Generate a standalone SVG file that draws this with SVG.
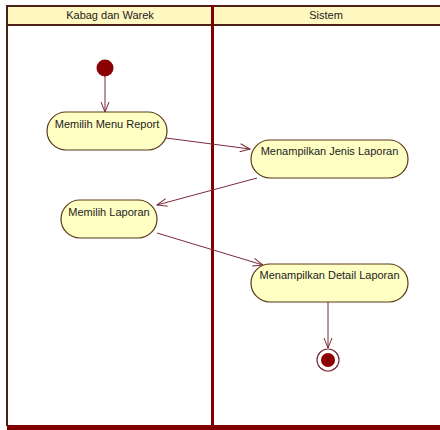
<svg xmlns="http://www.w3.org/2000/svg" width="440" height="430" viewBox="0 0 440 430">
  <style>
    .lane-title { font-family: "Liberation Sans", Arial, sans-serif; font-size: 11px; fill: #222; text-anchor: middle; }
    .act rect { fill: #ffffc4; stroke: #5a3a1a; stroke-width: 1.2; }
    .act text { font-family: "Liberation Sans", Arial, sans-serif; font-size: 11px; fill: #222; text-anchor: middle; }
    .flow { fill: none; stroke: #7a2a3a; stroke-width: 1; marker-end: url(#open); }
  </style>
  <defs>
    <marker id="open" viewBox="0 0 12 10" refX="11" refY="5" markerWidth="12" markerHeight="10" markerUnits="userSpaceOnUse" orient="auto">
      <path d="M1,1 L11,5 L1,9" fill="none" stroke="#7a2a3a" stroke-width="1"/>
    </marker>
  </defs>

  <rect width="440" height="430" fill="#ffffff"/>

  <!-- swimlane frame -->
  <g id="lanes">
    <rect x="7" y="6" width="440" height="19" fill="#fff8c0"/>
    <line x1="7" y1="6" x2="440" y2="6" stroke="#4a2018" stroke-width="2"/>
    <line x1="7" y1="25" x2="440" y2="25" stroke="#4a2018" stroke-width="2"/>
    <line x1="7" y1="5" x2="7" y2="426" stroke="#4a2018" stroke-width="2"/>
    <line x1="212.5" y1="5" x2="212.5" y2="426" stroke="#800000" stroke-width="3"/>
    <rect x="7" y="425" width="433" height="5" fill="#800000"/>
    <text class="lane-title" x="110" y="19">Kabag dan Warek</text>
    <text class="lane-title" x="326" y="19">Sistem</text>
  </g>

  <!-- control flows -->
  <g id="connectors">
    <line class="flow" x1="105" y1="76" x2="105" y2="112"/>
    <line class="flow" x1="166" y1="138" x2="250" y2="149"/>
    <line class="flow" x1="257" y1="178" x2="157" y2="205"/>
    <line class="flow" x1="157" y1="233" x2="263" y2="265"/>
    <line class="flow" x1="328" y1="302" x2="328" y2="348"/>
  </g>

  <g id="start">
    <circle cx="105" cy="68" r="8.5" fill="#8b0000"/>
  </g>

  <g id="memilih-menu-report" class="act">
    <rect x="47" y="112" width="120" height="38" rx="19" ry="19"/>
    <text x="107" y="128">Memilih Menu Report</text>
  </g>

  <g id="menampilkan-jenis-laporan" class="act">
    <rect x="251" y="140" width="157" height="38" rx="19" ry="19"/>
    <text x="329.5" y="155">Menampilkan Jenis Laporan</text>
  </g>

  <g id="memilih-laporan" class="act">
    <rect x="61" y="200" width="96" height="38" rx="19" ry="19"/>
    <text x="109" y="216">Memilih Laporan</text>
  </g>

  <g id="menampilkan-detail-laporan" class="act">
    <rect x="251" y="264" width="157" height="38" rx="19" ry="19"/>
    <text x="329.5" y="279">Menampilkan Detail Laporan</text>
  </g>

  <g id="end">
    <circle cx="328" cy="360" r="11" fill="#ffffff" stroke="#7a2a3a" stroke-width="1.2"/>
    <circle cx="328" cy="360" r="7" fill="#8b0000"/>
  </g>
</svg>
